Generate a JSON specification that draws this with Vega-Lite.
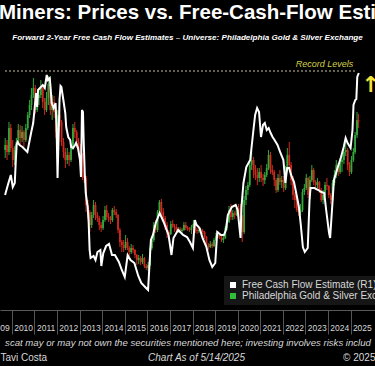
{
  "$schema": "https://vega.github.io/schema/vega-lite/v6.json",
  "width": 375,
  "height": 238,
  "autosize": {"type": "none"},
  "padding": {"top": 72, "left": 0, "right": 0, "bottom": 56},
  "background": "#000000",
  "config": {"view": {"stroke": null}},
  "title": {
    "text": "Miners: Prices vs. Free-Cash-Flow Esti",
    "subtitle": "Forward 2-Year Free Cash Flow Estimates – Universe: Philadelphia Gold & Silver Exchange",
    "anchor": "middle",
    "color": "#ffffff",
    "font": "Liberation Sans, sans-serif",
    "fontSize": 20.5,
    "fontWeight": "bold",
    "subtitleColor": "#ffffff",
    "subtitleFont": "Liberation Sans, sans-serif",
    "subtitleFontSize": 8.1,
    "subtitleFontStyle": "italic",
    "subtitleFontWeight": "bold",
    "subtitlePadding": 10,
    "offset": 18
  },
  "datasets": {
    "candles": [
      {"date":"2009-09-15","open":160,"high":172,"low":152,"close":165},
      {"date":"2009-10-15","open":165,"high":170,"low":150,"close":158},
      {"date":"2009-11-15","open":158,"high":188,"low":155,"close":182},
      {"date":"2009-12-15","open":182,"high":186,"low":158,"close":162},
      {"date":"2010-01-15","open":162,"high":170,"low":143,"close":150},
      {"date":"2010-02-15","open":150,"high":164,"low":145,"close":160},
      {"date":"2010-03-15","open":160,"high":172,"low":156,"close":168},
      {"date":"2010-04-15","open":168,"high":186,"low":165,"close":180},
      {"date":"2010-05-15","open":180,"high":185,"low":165,"close":172},
      {"date":"2010-06-15","open":172,"high":184,"low":168,"close":178},
      {"date":"2010-07-15","open":178,"high":180,"low":163,"close":170},
      {"date":"2010-08-15","open":170,"high":186,"low":168,"close":182},
      {"date":"2010-09-15","open":182,"high":198,"low":180,"close":195},
      {"date":"2010-10-15","open":195,"high":210,"low":192,"close":205},
      {"date":"2010-11-15","open":205,"high":222,"low":200,"close":215},
      {"date":"2010-12-15","open":215,"high":232,"low":212,"close":222},
      {"date":"2011-01-15","open":222,"high":225,"low":196,"close":200},
      {"date":"2011-02-15","open":200,"high":216,"low":198,"close":212},
      {"date":"2011-03-15","open":212,"high":220,"low":205,"close":215},
      {"date":"2011-04-15","open":215,"high":230,"low":212,"close":222},
      {"date":"2011-05-15","open":222,"high":224,"low":202,"close":208},
      {"date":"2011-06-15","open":208,"high":212,"low":195,"close":200},
      {"date":"2011-07-15","open":200,"high":218,"low":198,"close":212},
      {"date":"2011-08-15","open":212,"high":234,"low":205,"close":226},
      {"date":"2011-09-15","open":226,"high":232,"low":195,"close":200},
      {"date":"2011-10-15","open":200,"high":215,"low":190,"close":208},
      {"date":"2011-11-15","open":208,"high":214,"low":192,"close":198},
      {"date":"2011-12-15","open":198,"high":202,"low":172,"close":178},
      {"date":"2012-01-15","open":178,"high":200,"low":175,"close":195},
      {"date":"2012-02-15","open":195,"high":202,"low":184,"close":188},
      {"date":"2012-03-15","open":188,"high":190,"low":164,"close":168},
      {"date":"2012-04-15","open":168,"high":172,"low":152,"close":158},
      {"date":"2012-05-15","open":158,"high":162,"low":142,"close":150},
      {"date":"2012-06-15","open":150,"high":162,"low":146,"close":155},
      {"date":"2012-07-15","open":155,"high":158,"low":144,"close":150},
      {"date":"2012-08-15","open":150,"high":166,"low":148,"close":162},
      {"date":"2012-09-15","open":162,"high":186,"low":160,"close":182},
      {"date":"2012-10-15","open":182,"high":188,"low":172,"close":178},
      {"date":"2012-11-15","open":178,"high":180,"low":162,"close":168},
      {"date":"2012-12-15","open":168,"high":172,"low":155,"close":160},
      {"date":"2013-01-15","open":160,"high":166,"low":150,"close":155},
      {"date":"2013-02-15","open":155,"high":157,"low":130,"close":135},
      {"date":"2013-03-15","open":135,"high":140,"low":127,"close":132},
      {"date":"2013-04-15","open":132,"high":134,"low":98,"close":105},
      {"date":"2013-05-15","open":105,"high":110,"low":92,"close":98},
      {"date":"2013-06-15","open":98,"high":100,"low":78,"close":85},
      {"date":"2013-07-15","open":85,"high":98,"low":82,"close":95},
      {"date":"2013-08-15","open":95,"high":110,"low":92,"close":105},
      {"date":"2013-09-15","open":105,"high":108,"low":90,"close":95},
      {"date":"2013-10-15","open":95,"high":98,"low":88,"close":92},
      {"date":"2013-11-15","open":92,"high":94,"low":80,"close":85},
      {"date":"2013-12-15","open":85,"high":88,"low":78,"close":82},
      {"date":"2014-01-15","open":82,"high":94,"low":80,"close":90},
      {"date":"2014-02-15","open":90,"high":104,"low":88,"close":100},
      {"date":"2014-03-15","open":100,"high":105,"low":90,"close":93},
      {"date":"2014-04-15","open":93,"high":97,"low":88,"close":92},
      {"date":"2014-05-15","open":92,"high":94,"low":86,"close":90},
      {"date":"2014-06-15","open":90,"high":102,"low":88,"close":100},
      {"date":"2014-07-15","open":100,"high":104,"low":95,"close":98},
      {"date":"2014-08-15","open":98,"high":101,"low":92,"close":95},
      {"date":"2014-09-15","open":95,"high":96,"low":77,"close":80},
      {"date":"2014-10-15","open":80,"high":82,"low":63,"close":68},
      {"date":"2014-11-15","open":68,"high":70,"low":58,"close":65},
      {"date":"2014-12-15","open":65,"high":70,"low":58,"close":62},
      {"date":"2015-01-15","open":62,"high":75,"low":60,"close":68},
      {"date":"2015-02-15","open":68,"high":72,"low":60,"close":62},
      {"date":"2015-03-15","open":62,"high":64,"low":54,"close":58},
      {"date":"2015-04-15","open":58,"high":66,"low":56,"close":62},
      {"date":"2015-05-15","open":62,"high":65,"low":57,"close":60},
      {"date":"2015-06-15","open":60,"high":61,"low":52,"close":55},
      {"date":"2015-07-15","open":55,"high":56,"low":45,"close":50},
      {"date":"2015-08-15","open":50,"high":55,"low":46,"close":52},
      {"date":"2015-09-15","open":52,"high":54,"low":45,"close":48},
      {"date":"2015-10-15","open":48,"high":56,"low":46,"close":52},
      {"date":"2015-11-15","open":52,"high":53,"low":42,"close":44},
      {"date":"2015-12-15","open":44,"high":46,"low":40,"close":42},
      {"date":"2016-01-15","open":42,"high":48,"low":39,"close":45},
      {"date":"2016-02-15","open":45,"high":64,"low":44,"close":62},
      {"date":"2016-03-15","open":62,"high":74,"low":60,"close":70},
      {"date":"2016-04-15","open":70,"high":88,"low":68,"close":85},
      {"date":"2016-05-15","open":85,"high":90,"low":77,"close":80},
      {"date":"2016-06-15","open":80,"high":100,"low":78,"close":98},
      {"date":"2016-07-15","open":98,"high":110,"low":96,"close":108},
      {"date":"2016-08-15","open":108,"high":111,"low":95,"close":98},
      {"date":"2016-09-15","open":98,"high":102,"low":88,"close":92},
      {"date":"2016-10-15","open":92,"high":94,"low":80,"close":85},
      {"date":"2016-11-15","open":85,"high":88,"low":72,"close":78},
      {"date":"2016-12-15","open":78,"high":80,"low":72,"close":76},
      {"date":"2017-01-15","open":76,"high":89,"low":75,"close":86},
      {"date":"2017-02-15","open":86,"high":90,"low":82,"close":84},
      {"date":"2017-03-15","open":84,"high":86,"low":78,"close":83},
      {"date":"2017-04-15","open":83,"high":86,"low":78,"close":80},
      {"date":"2017-05-15","open":80,"high":83,"low":77,"close":81},
      {"date":"2017-06-15","open":81,"high":83,"low":77,"close":79},
      {"date":"2017-07-15","open":79,"high":82,"low":76,"close":80},
      {"date":"2017-08-15","open":80,"high":88,"low":79,"close":85},
      {"date":"2017-09-15","open":85,"high":88,"low":80,"close":82},
      {"date":"2017-10-15","open":82,"high":84,"low":79,"close":81},
      {"date":"2017-11-15","open":81,"high":83,"low":78,"close":80},
      {"date":"2017-12-15","open":80,"high":85,"low":76,"close":83},
      {"date":"2018-01-15","open":83,"high":90,"low":82,"close":86},
      {"date":"2018-02-15","open":86,"high":87,"low":77,"close":80},
      {"date":"2018-03-15","open":80,"high":82,"low":76,"close":79},
      {"date":"2018-04-15","open":79,"high":83,"low":77,"close":80},
      {"date":"2018-05-15","open":80,"high":82,"low":77,"close":79},
      {"date":"2018-06-15","open":79,"high":81,"low":76,"close":78},
      {"date":"2018-07-15","open":78,"high":79,"low":71,"close":73},
      {"date":"2018-08-15","open":73,"high":74,"low":61,"close":64},
      {"date":"2018-09-15","open":64,"high":67,"low":60,"close":63},
      {"date":"2018-10-15","open":63,"high":69,"low":62,"close":66},
      {"date":"2018-11-15","open":66,"high":68,"low":62,"close":64},
      {"date":"2018-12-15","open":64,"high":72,"low":63,"close":70},
      {"date":"2019-01-15","open":70,"high":77,"low":69,"close":74},
      {"date":"2019-02-15","open":74,"high":79,"low":72,"close":75},
      {"date":"2019-03-15","open":75,"high":77,"low":71,"close":73},
      {"date":"2019-04-15","open":73,"high":75,"low":68,"close":70},
      {"date":"2019-05-15","open":70,"high":74,"low":67,"close":72},
      {"date":"2019-06-15","open":72,"high":84,"low":71,"close":82},
      {"date":"2019-07-15","open":82,"high":91,"low":80,"close":88},
      {"date":"2019-08-15","open":88,"high":104,"low":87,"close":100},
      {"date":"2019-09-15","open":100,"high":106,"low":90,"close":93},
      {"date":"2019-10-15","open":93,"high":100,"low":90,"close":97},
      {"date":"2019-11-15","open":97,"high":99,"low":91,"close":95},
      {"date":"2019-12-15","open":95,"high":104,"low":94,"close":102},
      {"date":"2020-01-15","open":102,"high":106,"low":97,"close":100},
      {"date":"2020-02-15","open":100,"high":106,"low":90,"close":92},
      {"date":"2020-03-15","open":92,"high":95,"low":68,"close":78},
      {"date":"2020-04-15","open":78,"high":114,"low":76,"close":110},
      {"date":"2020-05-15","open":110,"high":124,"low":105,"close":120},
      {"date":"2020-06-15","open":120,"high":128,"low":115,"close":125},
      {"date":"2020-07-15","open":125,"high":150,"low":123,"close":145},
      {"date":"2020-08-15","open":145,"high":160,"low":140,"close":150},
      {"date":"2020-09-15","open":150,"high":153,"low":132,"close":140},
      {"date":"2020-10-15","open":140,"high":145,"low":130,"close":135},
      {"date":"2020-11-15","open":135,"high":142,"low":125,"close":132},
      {"date":"2020-12-15","open":132,"high":142,"low":128,"close":138},
      {"date":"2021-01-15","open":138,"high":145,"low":128,"close":132},
      {"date":"2021-02-15","open":132,"high":136,"low":124,"close":130},
      {"date":"2021-03-15","open":130,"high":138,"low":126,"close":135},
      {"date":"2021-04-15","open":135,"high":146,"low":133,"close":142},
      {"date":"2021-05-15","open":142,"high":160,"low":140,"close":155},
      {"date":"2021-06-15","open":155,"high":158,"low":136,"close":140},
      {"date":"2021-07-15","open":140,"high":145,"low":135,"close":138},
      {"date":"2021-08-15","open":138,"high":140,"low":124,"close":130},
      {"date":"2021-09-15","open":130,"high":132,"low":117,"close":120},
      {"date":"2021-10-15","open":120,"high":136,"low":118,"close":132},
      {"date":"2021-11-15","open":132,"high":140,"low":125,"close":128},
      {"date":"2021-12-15","open":128,"high":134,"low":122,"close":130},
      {"date":"2022-01-15","open":130,"high":134,"low":118,"close":122},
      {"date":"2022-02-15","open":122,"high":144,"low":120,"close":140},
      {"date":"2022-03-15","open":140,"high":162,"low":138,"close":155},
      {"date":"2022-04-15","open":155,"high":168,"low":142,"close":145},
      {"date":"2022-05-15","open":145,"high":148,"low":125,"close":130},
      {"date":"2022-06-15","open":130,"high":134,"low":110,"close":115},
      {"date":"2022-07-15","open":115,"high":118,"low":102,"close":110},
      {"date":"2022-08-15","open":110,"high":114,"low":98,"close":100},
      {"date":"2022-09-15","open":100,"high":104,"low":94,"close":98},
      {"date":"2022-10-15","open":98,"high":106,"low":95,"close":100},
      {"date":"2022-11-15","open":100,"high":121,"low":98,"close":118},
      {"date":"2022-12-15","open":118,"high":126,"low":115,"close":122},
      {"date":"2023-01-15","open":122,"high":136,"low":120,"close":132},
      {"date":"2023-02-15","open":132,"high":133,"low":112,"close":115},
      {"date":"2023-03-15","open":115,"high":134,"low":110,"close":130},
      {"date":"2023-04-15","open":130,"high":145,"low":128,"close":140},
      {"date":"2023-05-15","open":140,"high":142,"low":125,"close":128},
      {"date":"2023-06-15","open":128,"high":130,"low":120,"close":125},
      {"date":"2023-07-15","open":125,"high":132,"low":122,"close":128},
      {"date":"2023-08-15","open":128,"high":129,"low":117,"close":120},
      {"date":"2023-09-15","open":120,"high":122,"low":108,"close":110},
      {"date":"2023-10-15","open":110,"high":120,"low":106,"close":115},
      {"date":"2023-11-15","open":115,"high":128,"low":113,"close":125},
      {"date":"2023-12-15","open":125,"high":132,"low":120,"close":124},
      {"date":"2024-01-15","open":124,"high":125,"low":112,"close":115},
      {"date":"2024-02-15","open":115,"high":117,"low":106,"close":110},
      {"date":"2024-03-15","open":110,"high":130,"low":108,"close":127},
      {"date":"2024-04-15","open":127,"high":140,"low":125,"close":135},
      {"date":"2024-05-15","open":135,"high":150,"low":132,"close":145},
      {"date":"2024-06-15","open":145,"high":147,"low":134,"close":138},
      {"date":"2024-07-15","open":138,"high":152,"low":136,"close":148},
      {"date":"2024-08-15","open":148,"high":155,"low":138,"close":150},
      {"date":"2024-09-15","open":150,"high":162,"low":146,"close":158},
      {"date":"2024-10-15","open":158,"high":168,"low":154,"close":160},
      {"date":"2024-11-15","open":160,"high":162,"low":140,"close":145},
      {"date":"2024-12-15","open":145,"high":148,"low":134,"close":138},
      {"date":"2025-01-15","open":138,"high":154,"low":136,"close":150},
      {"date":"2025-02-15","open":150,"high":162,"low":148,"close":158},
      {"date":"2025-03-15","open":158,"high":178,"low":156,"close":175},
      {"date":"2025-04-15","open":175,"high":198,"low":172,"close":190},
      {"date":"2025-05-07","open":190,"high":196,"low":182,"close":188}
    ],
    "fcf": [
      {"date":"2009-09-13","fcf":11.5},
      {"date":"2009-10-28","fcf":12.5},
      {"date":"2009-12-15","fcf":13.5},
      {"date":"2010-01-16","fcf":12.3},
      {"date":"2010-02-17","fcf":12.7},
      {"date":"2010-03-18","fcf":16.5},
      {"date":"2010-04-04","fcf":16.8},
      {"date":"2010-05-05","fcf":16.5},
      {"date":"2010-06-21","fcf":16.3},
      {"date":"2010-09-09","fcf":15.8},
      {"date":"2010-11-11","fcf":17.8},
      {"date":"2010-12-12","fcf":18.7},
      {"date":"2011-01-28","fcf":21.7},
      {"date":"2011-02-14","fcf":20.3},
      {"date":"2011-03-01","fcf":22.0},
      {"date":"2011-04-16","fcf":22.3},
      {"date":"2011-05-17","fcf":22.5},
      {"date":"2011-06-18","fcf":22.2},
      {"date":"2011-07-19","fcf":23.5},
      {"date":"2011-08-05","fcf":23.0},
      {"date":"2011-09-06","fcf":23.2},
      {"date":"2011-09-22","fcf":22.0},
      {"date":"2011-10-07","fcf":20.7},
      {"date":"2011-11-08","fcf":20.2},
      {"date":"2011-12-09","fcf":20.7},
      {"date":"2011-12-25","fcf":18.3},
      {"date":"2012-01-10","fcf":13.2},
      {"date":"2012-02-11","fcf":21.0},
      {"date":"2012-02-27","fcf":22.4},
      {"date":"2012-03-12","fcf":22.3},
      {"date":"2012-04-13","fcf":21.0},
      {"date":"2012-05-14","fcf":19.7},
      {"date":"2012-05-29","fcf":18.3},
      {"date":"2012-07-01","fcf":17.3},
      {"date":"2012-08-02","fcf":17.0},
      {"date":"2012-08-17","fcf":16.3},
      {"date":"2012-09-18","fcf":16.2},
      {"date":"2012-10-19","fcf":16.5},
      {"date":"2012-11-05","fcf":16.7},
      {"date":"2012-12-06","fcf":16.2},
      {"date":"2013-01-07","fcf":15.0},
      {"date":"2013-01-23","fcf":13.3},
      {"date":"2013-02-08","fcf":20.0},
      {"date":"2013-02-24","fcf":19.8},
      {"date":"2013-03-09","fcf":16.7},
      {"date":"2013-03-25","fcf":13.7},
      {"date":"2013-04-10","fcf":11.7},
      {"date":"2013-05-11","fcf":10.3},
      {"date":"2013-05-27","fcf":8.8},
      {"date":"2013-06-12","fcf":6.0},
      {"date":"2013-06-28","fcf":5.2},
      {"date":"2013-08-14","fcf":5.4},
      {"date":"2013-09-15","fcf":5.0},
      {"date":"2013-10-16","fcf":5.8},
      {"date":"2013-12-03","fcf":6.0},
      {"date":"2013-12-18","fcf":4.4},
      {"date":"2014-01-19","fcf":5.7},
      {"date":"2014-03-06","fcf":6.4},
      {"date":"2014-04-22","fcf":6.6},
      {"date":"2014-06-09","fcf":5.5},
      {"date":"2014-07-26","fcf":5.5},
      {"date":"2014-09-28","fcf":4.8},
      {"date":"2014-11-14","fcf":4.0},
      {"date":"2015-01-01","fcf":3.3},
      {"date":"2015-02-17","fcf":5.5},
      {"date":"2015-04-04","fcf":5.0},
      {"date":"2015-06-06","fcf":4.7},
      {"date":"2015-08-08","fcf":3.4},
      {"date":"2015-09-25","fcf":2.7},
      {"date":"2015-12-12","fcf":2.2},
      {"date":"2016-01-13","fcf":2.0},
      {"date":"2016-02-14","fcf":5.5},
      {"date":"2016-02-28","fcf":7.0},
      {"date":"2016-04-01","fcf":7.5},
      {"date":"2016-05-17","fcf":8.7},
      {"date":"2016-07-19","fcf":9.7},
      {"date":"2016-09-21","fcf":8.8},
      {"date":"2016-12-09","fcf":7.5},
      {"date":"2017-01-26","fcf":5.5},
      {"date":"2017-02-27","fcf":7.2},
      {"date":"2017-05-14","fcf":8.0},
      {"date":"2017-08-02","fcf":7.5},
      {"date":"2017-10-04","fcf":7.3},
      {"date":"2017-11-21","fcf":6.8},
      {"date":"2018-01-07","fcf":6.2},
      {"date":"2018-02-08","fcf":9.0},
      {"date":"2018-03-09","fcf":8.5},
      {"date":"2018-04-25","fcf":8.2},
      {"date":"2018-06-12","fcf":7.2},
      {"date":"2018-08-14","fcf":6.3},
      {"date":"2018-10-01","fcf":5.0},
      {"date":"2018-11-17","fcf":4.3},
      {"date":"2019-01-04","fcf":4.7},
      {"date":"2019-02-05","fcf":7.8},
      {"date":"2019-04-07","fcf":7.5},
      {"date":"2019-05-24","fcf":7.5},
      {"date":"2019-06-25","fcf":8.0},
      {"date":"2019-07-26","fcf":9.5},
      {"date":"2019-09-28","fcf":10.3},
      {"date":"2019-11-30","fcf":10.5},
      {"date":"2020-01-01","fcf":10.0},
      {"date":"2020-02-17","fcf":7.2},
      {"date":"2020-03-03","fcf":10.3},
      {"date":"2020-04-04","fcf":12.7},
      {"date":"2020-05-20","fcf":14.3},
      {"date":"2020-07-22","fcf":15.0},
      {"date":"2020-09-09","fcf":17.8},
      {"date":"2020-10-10","fcf":19.5},
      {"date":"2020-11-11","fcf":20.2},
      {"date":"2020-12-12","fcf":19.8},
      {"date":"2021-01-13","fcf":17.3},
      {"date":"2021-02-14","fcf":18.5},
      {"date":"2021-03-15","fcf":18.7},
      {"date":"2021-04-16","fcf":18.0},
      {"date":"2021-05-17","fcf":18.2},
      {"date":"2021-06-18","fcf":17.7},
      {"date":"2021-07-19","fcf":17.3},
      {"date":"2021-08-20","fcf":17.0},
      {"date":"2021-10-07","fcf":16.5},
      {"date":"2021-11-24","fcf":15.7},
      {"date":"2022-01-10","fcf":15.0},
      {"date":"2022-02-11","fcf":12.7},
      {"date":"2022-03-12","fcf":14.2},
      {"date":"2022-04-13","fcf":14.2},
      {"date":"2022-05-14","fcf":13.5},
      {"date":"2022-07-01","fcf":12.8},
      {"date":"2022-08-02","fcf":11.8},
      {"date":"2022-09-18","fcf":10.3},
      {"date":"2022-10-19","fcf":8.5},
      {"date":"2022-11-21","fcf":6.3},
      {"date":"2022-12-22","fcf":5.8},
      {"date":"2023-02-08","fcf":6.2},
      {"date":"2023-03-09","fcf":11.0},
      {"date":"2023-03-25","fcf":12.2},
      {"date":"2023-05-27","fcf":12.2},
      {"date":"2023-07-29","fcf":12.0},
      {"date":"2023-09-15","fcf":11.8},
      {"date":"2023-11-02","fcf":11.7},
      {"date":"2023-12-03","fcf":10.0},
      {"date":"2024-01-19","fcf":7.7},
      {"date":"2024-02-05","fcf":7.2},
      {"date":"2024-03-06","fcf":10.0},
      {"date":"2024-04-07","fcf":13.0},
      {"date":"2024-06-09","fcf":14.3},
      {"date":"2024-07-26","fcf":15.2},
      {"date":"2024-09-12","fcf":16.3},
      {"date":"2024-10-13","fcf":17.2},
      {"date":"2024-11-14","fcf":16.7},
      {"date":"2025-01-01","fcf":16.2},
      {"date":"2025-02-01","fcf":18.0},
      {"date":"2025-02-17","fcf":20.5},
      {"date":"2025-03-18","fcf":21.0},
      {"date":"2025-04-04","fcf":21.1},
      {"date":"2025-04-19","fcf":23.3},
      {"date":"2025-05-14","fcf":23.7}
    ]
  },
  "resolve": {"scale": {"y": "independent"}, "axis": {"x": "independent"}},
  "layer": [
    {
      "data": {"name": "candles"},
      "mark": {"type": "rule", "strokeWidth": 1},
      "encoding": {
        "x": {
          "field": "date", "type": "temporal",
          "scale": {"type": "utc", "domain": [{"year": 2009, "month": 9, "date": 12, "utc": true}, {"year": 2025, "month": 11, "date": 11, "utc": true}]},
          "axis": {
            "orient": "bottom",
            "values": [
              {"year": 2009, "month": 11, "date": 20, "utc": true},
              {"year": 2010, "month": 7, "date": 2, "utc": true},
              {"year": 2011, "month": 7, "date": 2, "utc": true},
              {"year": 2012, "month": 7, "date": 2, "utc": true},
              {"year": 2013, "month": 7, "date": 2, "utc": true},
              {"year": 2014, "month": 7, "date": 2, "utc": true},
              {"year": 2015, "month": 7, "date": 2, "utc": true},
              {"year": 2016, "month": 7, "date": 2, "utc": true},
              {"year": 2017, "month": 7, "date": 2, "utc": true},
              {"year": 2018, "month": 7, "date": 2, "utc": true},
              {"year": 2019, "month": 7, "date": 2, "utc": true},
              {"year": 2020, "month": 7, "date": 2, "utc": true},
              {"year": 2021, "month": 7, "date": 2, "utc": true},
              {"year": 2022, "month": 7, "date": 2, "utc": true},
              {"year": 2023, "month": 7, "date": 2, "utc": true},
              {"year": 2024, "month": 7, "date": 2, "utc": true},
              {"year": 2025, "month": 7, "date": 2, "utc": true}
            ],
            "format": "%Y",
            "labelColor": "#d8d8d8",
            "labelFont": "Liberation Sans, sans-serif",
            "labelFontSize": 8.5,
            "labelPadding": 13,
            "labelOverlap": false,
            "labelFlush": false,
            "labelAlign": {"condition": {"test": "utcyear(datum.value) == 2009", "value": "right"}, "value": "center"},
            "ticks": false,
            "tickSize": 0,
            "domain": true,
            "domainColor": "#5a5a5a",
            "grid": false,
            "title": null
          }
        },
        "y": {"field": "low", "type": "quantitative", "scale": {"domain": [0, 238], "nice": false, "zero": false}, "axis": null},
        "y2": {"field": "high"},
        "color": {"condition": {"test": "datum.close >= datum.open", "value": "#35a83c"}, "value": "#cf2a1f"}
      }
    },
    {
      "data": {"name": "candles"},
      "mark": {"type": "bar", "size": 1.8},
      "encoding": {
        "x": {
          "field": "date", "type": "temporal",
          "axis": {
            "orient": "bottom",
            "values": [
              {"year": 2010, "month": 1, "date": 1, "utc": true},
              {"year": 2011, "month": 1, "date": 1, "utc": true},
              {"year": 2012, "month": 1, "date": 1, "utc": true},
              {"year": 2013, "month": 1, "date": 1, "utc": true},
              {"year": 2014, "month": 1, "date": 1, "utc": true},
              {"year": 2015, "month": 1, "date": 1, "utc": true},
              {"year": 2016, "month": 1, "date": 1, "utc": true},
              {"year": 2017, "month": 1, "date": 1, "utc": true},
              {"year": 2018, "month": 1, "date": 1, "utc": true},
              {"year": 2019, "month": 1, "date": 1, "utc": true},
              {"year": 2020, "month": 1, "date": 1, "utc": true},
              {"year": 2021, "month": 1, "date": 1, "utc": true},
              {"year": 2022, "month": 1, "date": 1, "utc": true},
              {"year": 2023, "month": 1, "date": 1, "utc": true},
              {"year": 2024, "month": 1, "date": 1, "utc": true},
              {"year": 2025, "month": 1, "date": 1, "utc": true}
            ],
            "labels": false,
            "ticks": true,
            "tickSize": 24,
            "tickColor": "#555555",
            "tickWidth": 1,
            "domain": false,
            "grid": false,
            "title": null
          }
        },
        "y": {"field": "open", "type": "quantitative", "scale": {"domain": [0, 238], "nice": false, "zero": false}, "axis": null},
        "y2": {"field": "close"},
        "color": {"condition": {"test": "datum.close >= datum.open", "value": "#35a83c"}, "value": "#cf2a1f"}
      }
    },
    {
      "data": {"name": "fcf"},
      "mark": {"type": "line", "strokeWidth": 2},
      "encoding": {
        "x": {
          "field": "date", "type": "temporal",
          "axis": {
            "orient": "bottom", "labels": false, "ticks": false, "domain": false, "grid": false,
            "title": "scat may or may not own the securities mentioned here; investing involves risks includ",
            "titleColor": "#d8d8d8",
            "titleFont": "Liberation Sans, sans-serif",
            "titleFontSize": 9.6,
            "titleFontStyle": "italic",
            "titleFontWeight": "normal",
            "titleAnchor": "middle",
            "titlePadding": 27
          }
        },
        "y": {"field": "fcf", "type": "quantitative", "scale": {"domain": [0, 23.8], "nice": false, "zero": false}, "axis": null},
        "color": {
          "datum": "Free Cash Flow Estimate (R1)",
          "scale": {"domain": ["Free Cash Flow Estimate (R1)", "Philadelphia Gold & Silver Exchange"], "range": ["#ffffff", "#2fbf3a"]},
          "legend": {
            "orient": "none", "legendX": 224, "legendY": 204,
            "title": null,
            "symbolType": "square", "symbolSize": 36,
            "labelColor": "#d8d8d8",
            "labelFont": "Liberation Sans, sans-serif",
            "labelFontSize": 10,
            "labelLimit": 0,
            "fillColor": "#161616",
            "padding": 4,
            "rowPadding": 1,
            "encode": {"symbols": {"update": {"fill": {"scale": "color", "field": "value"}, "strokeWidth": {"value": 0}}}}
          }
        }
      }
    },
    {
      "data": {"values": [{}]},
      "mark": {"type": "rule", "strokeDash": [2, 2], "strokeWidth": 1.2, "color": "#c9c2a0"},
      "encoding": {
        "x": {
          "datum": {"year": 2009, "month": 9, "date": 12, "utc": true}, "type": "temporal",
          "axis": {
            "orient": "bottom", "labels": false, "ticks": false, "domain": false, "grid": false,
            "title": "Tavi Costa",
            "titleColor": "#d8d8d8",
            "titleFont": "Liberation Sans, sans-serif",
            "titleFontSize": 10,
            "titleFontWeight": "normal",
            "titleAnchor": "start",
            "titlePadding": 42
          }
        },
        "x2": {"datum": {"year": 2025, "month": 3, "date": 20, "utc": true}},
        "y": {"datum": 23.9, "type": "quantitative", "scale": {"domain": [0, 23.8], "nice": false, "zero": false}, "axis": null}
      }
    },
    {
      "data": {"values": [{}]},
      "mark": {"type": "text", "text": "Record Levels", "align": "right", "baseline": "bottom", "dy": -2, "fontStyle": "italic", "fontSize": 9, "color": "#d6d14b", "font": "Liberation Sans, sans-serif"},
      "encoding": {
        "x": {
          "datum": {"year": 2025, "month": 2, "date": 15, "utc": true}, "type": "temporal",
          "axis": {
            "orient": "bottom", "labels": false, "ticks": false, "domain": false, "grid": false,
            "title": "Chart As of 5/14/2025",
            "titleColor": "#d8d8d8",
            "titleFont": "Liberation Sans, sans-serif",
            "titleFontSize": 10,
            "titleFontStyle": "italic",
            "titleFontWeight": "normal",
            "titleAnchor": "middle",
            "titleX": 196,
            "titlePadding": 42
          }
        },
        "y": {"datum": 23.9, "type": "quantitative", "scale": {"domain": [0, 23.8], "nice": false, "zero": false}, "axis": null}
      }
    },
    {
      "data": {"values": [{}]},
      "mark": {"type": "text", "text": "↑", "align": "center", "baseline": "middle", "fontSize": 22, "fontWeight": "bold", "color": "#f2e33a", "font": "DejaVu Sans"},
      "encoding": {
        "x": {
          "datum": {"year": 2025, "month": 11, "date": 22, "utc": true}, "type": "temporal",
          "axis": {
            "orient": "bottom", "labels": false, "ticks": false, "domain": false, "grid": false,
            "title": "© 2025",
            "titleColor": "#d8d8d8",
            "titleFont": "Liberation Sans, sans-serif",
            "titleFontSize": 10,
            "titleFontWeight": "normal",
            "titleAnchor": "end",
            "titlePadding": 42
          }
        },
        "y": {"datum": 22.5, "type": "quantitative", "scale": {"domain": [0, 23.8], "nice": false, "zero": false}, "axis": null}
      }
    }
  ]
}
